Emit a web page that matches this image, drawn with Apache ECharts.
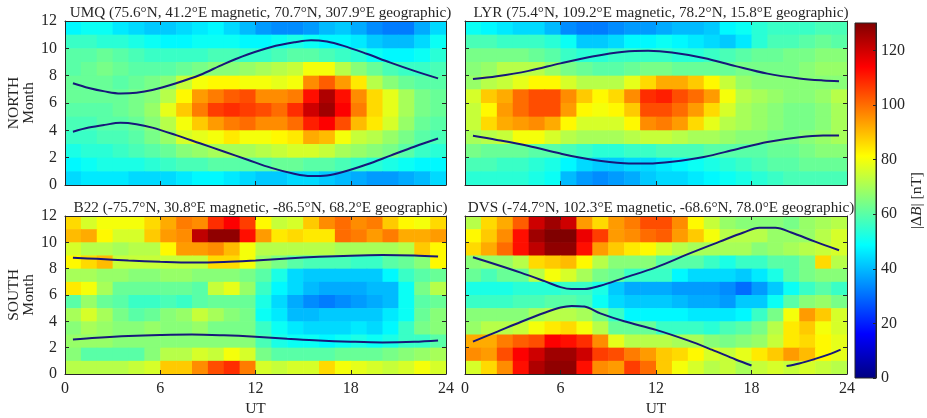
<!DOCTYPE html>
<html><head><meta charset="utf-8">
<script src="https://cdn.jsdelivr.net/npm/echarts@6/dist/echarts.min.js"></script>
<style>html,body{margin:0;padding:0;background:#fff}#c{width:927px;height:418px}</style>
</head><body><div id="c"></div>
<script>
// ---------- DATA ----------
const hours = [0,1,2,3,4,5,6,7,8,9,10,11,12,13,14,15,16,17,18,19,20,21,22,23];
const xTicks = [0, 6, 12, 18, 24];
const yTicks = [0, 2, 4, 6, 8, 10, 12];
const colorTicks = [0, 20, 40, 60, 80, 100, 120];
const colorRange = [0, 130];

const titles = [
  'UMQ (75.6°N, 41.2°E magnetic, 70.7°N, 307.9°E geographic)',
  'LYR (75.4°N, 109.2°E magnetic, 78.2°N, 15.8°E geographic)',
  'B22 (-75.7°N, 30.8°E magnetic, -86.5°N, 68.2°E geographic)',
  'DVS (-74.7°N, 102.3°E magnetic, -68.6°N, 78.0°E geographic)'
];
const hemispheres = ['NORTH', 'SOUTH'];

// |ΔB| [nT] rows listed from month 11-12 (top) down to month 0-1 (bottom), columns UT 0..23
const umq = [
  [48,50,50,46,44,42,42,44,46,48,44,40,36,34,34,36,40,42,38,34,32,32,38,44],
  [56,56,54,54,52,50,48,48,50,50,50,48,48,50,52,50,48,48,46,42,40,40,44,50],
  [60,60,62,60,58,56,56,56,56,58,58,56,56,58,60,60,58,56,54,50,48,48,50,54],
  [60,62,64,62,60,60,60,62,64,66,66,68,70,72,74,80,80,72,66,62,58,56,56,58],
  [62,62,62,60,62,64,66,74,80,82,82,80,80,78,80,96,102,94,84,72,66,62,60,60],
  [62,62,62,62,64,66,72,82,94,98,102,104,96,96,98,112,124,112,96,86,78,70,64,62],
  [60,60,60,62,64,68,78,88,98,106,108,106,104,100,108,120,126,114,98,86,78,70,64,62],
  [58,58,60,60,62,66,72,80,88,94,98,100,96,96,100,110,114,104,90,84,76,68,62,60],
  [56,56,58,58,60,64,68,76,78,80,84,80,80,82,84,92,90,80,74,72,68,64,60,58],
  [52,54,54,56,58,60,62,66,68,70,70,70,72,74,76,76,74,70,68,66,64,60,56,54],
  [48,50,52,52,52,54,56,58,58,60,60,60,60,62,62,60,60,58,56,54,52,50,48,48],
  [44,46,46,46,44,44,44,46,48,48,46,44,42,42,44,44,42,40,38,36,36,38,40,44]
];
const lyr = [
  [50,48,46,44,44,40,34,32,32,34,36,36,38,40,40,42,48,50,54,56,56,56,58,58],
  [58,58,56,56,56,54,50,42,42,44,48,48,50,48,46,44,42,46,54,58,58,60,62,60],
  [64,64,64,64,62,60,56,54,54,56,56,56,56,54,54,56,58,60,62,62,64,64,66,66],
  [66,68,72,72,72,68,64,62,60,60,62,64,64,62,62,62,62,64,64,64,64,66,68,68],
  [68,72,74,78,82,82,76,72,72,72,78,86,92,92,88,82,74,68,66,66,66,66,66,66],
  [76,88,92,100,104,104,96,88,82,86,96,108,110,104,100,94,80,72,70,68,66,66,68,72],
  [74,82,94,100,104,104,94,82,80,82,88,104,104,100,94,86,76,70,68,66,64,64,66,70],
  [74,86,92,94,96,92,82,76,76,76,82,96,98,94,86,78,72,70,68,66,64,64,66,70],
  [70,72,74,80,80,76,72,70,70,70,72,74,74,72,70,70,68,66,66,64,64,66,68,70],
  [64,62,62,62,60,60,58,56,54,54,56,56,58,58,58,60,60,60,60,62,62,64,66,66],
  [58,58,56,56,54,52,48,44,42,42,44,44,46,48,50,52,54,56,58,60,60,62,62,62],
  [54,54,54,54,52,50,40,36,34,36,38,42,44,44,46,48,50,52,54,56,58,58,58,58]
];
const b22 = [
  [86,76,80,80,80,86,92,98,96,108,114,106,82,74,76,88,96,100,96,98,88,82,80,86],
  [90,92,82,76,76,88,94,96,122,128,128,112,94,84,86,84,84,100,98,94,98,92,92,94],
  [76,72,72,70,72,72,82,94,94,96,90,80,72,72,72,72,72,70,70,70,70,72,88,82],
  [82,86,90,74,74,74,74,74,74,86,86,80,68,64,60,58,58,58,56,56,60,62,66,82],
  [70,70,68,68,66,66,68,68,66,66,66,64,60,52,44,42,42,42,42,42,48,56,60,62],
  [84,80,70,62,62,62,62,62,60,74,78,68,56,48,44,40,38,38,38,40,40,50,64,72],
  [60,68,62,60,56,56,58,56,60,62,62,62,52,44,38,34,32,34,36,38,40,50,60,62],
  [70,76,70,64,60,62,66,68,74,70,66,64,50,46,40,40,42,42,42,42,46,50,62,66],
  [66,70,68,66,66,68,66,66,68,64,64,64,56,50,46,44,44,44,46,44,48,56,64,66],
  [68,68,68,66,66,66,66,66,66,66,66,66,58,52,50,50,48,50,52,50,52,56,56,60],
  [66,60,60,60,60,66,72,72,76,74,80,76,64,60,60,60,60,62,62,62,64,66,68,70],
  [72,72,72,72,74,76,88,88,96,104,108,98,76,74,76,76,86,80,78,76,74,76,80,76]
];
const dvs = [
  [72,86,92,102,120,126,120,94,86,94,98,104,104,96,82,74,68,66,66,66,64,68,70,72],
  [82,88,96,112,126,130,130,116,106,94,96,100,102,94,88,80,72,72,72,68,68,68,72,76],
  [86,92,100,112,122,128,128,112,94,88,84,82,76,72,70,70,70,70,66,68,70,72,74,76],
  [66,68,68,72,86,88,90,82,72,66,66,66,60,60,60,56,52,56,56,60,60,64,86,72],
  [62,58,62,62,72,80,76,70,64,62,56,56,56,48,44,44,44,42,46,52,60,64,66,66],
  [52,52,52,54,54,54,56,56,52,42,38,38,38,36,36,36,34,30,36,42,50,56,60,56],
  [56,56,56,58,58,60,60,58,50,44,42,42,42,40,38,38,36,42,42,50,60,66,68,64],
  [66,66,66,66,70,72,72,70,64,56,48,48,48,48,46,46,46,48,56,64,80,94,88,76],
  [68,72,72,74,80,84,86,80,72,62,62,62,56,56,56,54,58,60,64,72,84,88,80,76],
  [92,92,98,102,104,114,112,108,96,78,72,72,72,70,70,66,64,66,68,74,84,86,82,78],
  [96,94,104,114,120,126,126,120,106,104,98,94,88,86,82,76,74,78,84,88,94,90,82,78],
  [76,86,96,112,124,128,128,112,96,94,106,100,88,80,76,72,74,70,74,76,74,76,74,72]
];
const panelsData = [umq, lyr, b22, dvs];

// curves [UT, month]
const umqUpper = [[0.5,7.45],[1.5,7.1],[2.5,6.85],[3.5,6.7],[4.5,6.75],[5.5,6.95],[7,7.45],[8.5,8.05],[10,8.85],[11.5,9.55],[13,10.1],[14.5,10.45],[15.5,10.6],[16.5,10.5],[17.5,10.2],[19,9.6],[20.5,8.95],[22,8.35],[23.5,7.8]];
const umqLower = [[0.5,3.9],[1.5,4.2],[2.5,4.4],[3.5,4.55],[4.5,4.45],[5.5,4.2],[7,3.65],[8.5,3.05],[10,2.45],[11.5,1.85],[13,1.25],[14.5,0.8],[15.5,0.65],[16.5,0.7],[17.5,0.95],[19,1.5],[20.5,2.15],[22,2.8],[23.5,3.4]];
const lyrUpper = [[0.5,7.75],[2,7.95],[4,8.35],[6,8.9],[8,9.4],[10,9.75],[11.5,9.82],[13,9.7],[15,9.3],[17,8.7],[19,8.15],[21,7.8],[22.5,7.65],[23.5,7.6]];
const lyrLower = [[0.5,3.6],[2,3.3],[4,2.85],[6,2.3],[8,1.85],[10,1.6],[11.5,1.57],[13,1.7],[15,2.05],[17,2.6],[19,3.15],[21,3.5],[22.5,3.62],[23.5,3.62]];
const b22Upper = [[0.5,8.82],[2,8.75],[4,8.62],[6,8.52],[8,8.46],[10,8.5],[12,8.62],[14,8.77],[16,8.9],[18,8.99],[20,9.03],[22,9.0],[23.5,8.92]];
const b22Lower = [[0.5,2.62],[2,2.75],[4,2.88],[6,2.96],[8,3.0],[10,2.94],[12,2.83],[14,2.68],[16,2.54],[18,2.45],[20,2.4],[22,2.44],[23.5,2.54]];
const dvsUpper = [[0.5,8.87],[2,8.3],[3.5,7.7],[5,7.05],[6,6.6],[6.7,6.45],[7.5,6.45],[8.5,6.7],[10,7.3],[12,8.1],[14,9.1],[16,10.05],[17.5,10.75],[18.5,11.1],[19.5,11.1],[20.5,10.75],[22,10.05],[23.5,9.4]];
const dvsLower = [[0.5,2.46],[2,3.2],[3.5,3.95],[5,4.65],[6,5.05],[6.7,5.17],[7.5,5.12],[8.5,4.6],[10,4.0],[12,3.35],[14,2.55],[15.5,1.85],[17,1.1],[18,0.65],[19,null],[20.2,0.6],[21,0.8],[22,1.15],[23,1.55],[23.6,1.85]];
const curves = [[umqUpper, umqLower],[lyrUpper, lyrLower],[b22Upper, b22Lower],[dvsUpper, dvsLower]];

// ---------- LAYOUT / STYLE ----------
const FONT = 'Liberation Serif';
const INK = '#262626';
const jet = ['#000080','#0000ff','#0080ff','#00ffff','#80ff80','#ffff00','#ff8000','#ff0000','#800000'];
const grids = [
  {left:65, top:21, width:381, height:164},
  {left:465, top:21, width:382, height:164},
  {left:65, top:216, width:381, height:163},
  {left:465, top:216, width:382, height:163},
  {left:855, top:23, width:21, height:355}
];

const xAxes = [], yAxes = [], series = [], titleOpts = [];
const axisLine = {show:true, onZero:false, lineStyle:{color:INK, width:1}};
for (let i = 0; i < 4; i++) {
  const isBottom = i >= 2, isLeft = i % 2 === 0;
  const base = {gridIndex:i, type:'value', min:0, z:5, splitLine:{show:false}, axisLine,
    axisTick:{show:true, inside:true, length:4, lineStyle:{color:INK}}};
  xAxes.push(Object.assign({}, base, {position:'bottom', max:24, interval:6,
    axisLabel:{show:isBottom, color:INK, fontFamily:FONT, fontSize:16, margin:7, showMinLabel:true, showMaxLabel:true},
    name:isBottom ? 'UT' : '', nameLocation:'middle', nameGap:27,
    nameTextStyle:{color:INK, fontFamily:FONT, fontSize:15.5}}));
  xAxes.push(Object.assign({}, base, {position:'top', max:24, interval:6, axisLabel:{show:false}}));
  yAxes.push(Object.assign({}, base, {position:'left', max:12, interval:2,
    axisLabel:{show:isLeft, color:INK, fontFamily:FONT, fontSize:16, margin:8},
    name:isLeft ? hemispheres[isBottom ? 1 : 0] + '\nMonth' : '', nameLocation:'middle', nameGap:22, nameRotate:90,
    nameTextStyle:{color:INK, fontFamily:FONT, fontSize:15.5, lineHeight:15}}));
  yAxes.push(Object.assign({}, base, {position:'right', max:12, interval:2, axisLabel:{show:false}}));

  const g = grids[i];
  titleOpts.push({text:titles[i], left:g.left + g.width/2, top:g.top - 20, textAlign:'center',
    textStyle:{color:INK, fontFamily:FONT, fontSize:15.2, fontWeight:'normal'}});

  const cells = [];
  panelsData[i].forEach((row, k) => {
    const m = panelsData[i].length - 1 - k;
    row.forEach((v, h) => cells.push([hours[h], m, v]));
  });
  series.push({
    type:'custom', xAxisIndex:2*i, yAxisIndex:2*i, data:cells, clip:true, z:1,
    encode:{x:0, y:1},
    renderItem:(params, api) => {
      const x = api.value(0), y = api.value(1);
      const p0 = api.coord([x, y + 1]);
      const p1 = api.coord([x + 1, y]);
      return {type:'rect', shape:{x:p0[0], y:p0[1], width:p1[0]-p0[0]+0.6, height:p1[1]-p0[1]+0.6},
        style:{fill:api.visual('color')}};
    }
  });
}
for (let i = 0; i < 4; i++) {
  curves[i].forEach(c => series.push({
    type:'line', xAxisIndex:2*i, yAxisIndex:2*i, data:c, smooth:0.35, showSymbol:false,
    connectNulls:false, z:3, clip:true, lineStyle:{color:'#17177a', width:2}, silent:true
  }));
}
// colorbar
xAxes.push({gridIndex:4, type:'value', min:0, max:1, show:false});
yAxes.push({gridIndex:4, type:'value', position:'right', min:colorRange[0], max:colorRange[1], interval:20, z:5,
  splitLine:{show:false}, axisLine,
  axisTick:{show:true, inside:true, length:3, lineStyle:{color:INK}},
  axisLabel:{color:INK, fontFamily:FONT, fontSize:16, margin:5, showMaxLabel:false,
    formatter:v => colorTicks.includes(v) ? String(v) : ''},
  name:'{a||Δ}{b|B}{a|| [nT]}', nameLocation:'middle', nameGap:25, nameRotate:90,
  nameTextStyle:{color:INK, fontFamily:FONT, fontSize:15.5,
    rich:{a:{fontFamily:FONT, fontSize:15.5, color:INK}, b:{fontFamily:FONT, fontSize:15.5, fontStyle:'italic', color:INK}}}});
const stops = jet.map((c, j) => ({offset:j/(jet.length-1), color:c}));
series.push({
  type:'custom', xAxisIndex:8, yAxisIndex:8, data:[[0, colorRange[0], 1, colorRange[1]]], z:1,
  renderItem:(params, api) => {
    const p0 = api.coord([api.value(0), api.value(3)]);
    const p1 = api.coord([api.value(2), api.value(1)]);
    return {type:'rect', shape:{x:p0[0], y:p0[1], width:p1[0]-p0[0], height:p1[1]-p0[1]},
      style:{fill:new echarts.graphic.LinearGradient(0,1,0,0,stops), stroke:INK, lineWidth:1}};
  }
});

const chart = echarts.init(document.getElementById('c'), null, {renderer:'canvas'});
chart.setOption({
  backgroundColor:'#ffffff',
  animation:false,
  title:titleOpts,
  grid:grids,
  xAxis:xAxes,
  yAxis:yAxes,
  visualMap:{type:'continuous', show:false, min:colorRange[0], max:colorRange[1], dimension:2,
    seriesIndex:[0,1,2,3], inRange:{color:jet}},
  series
});
</script></body></html>
